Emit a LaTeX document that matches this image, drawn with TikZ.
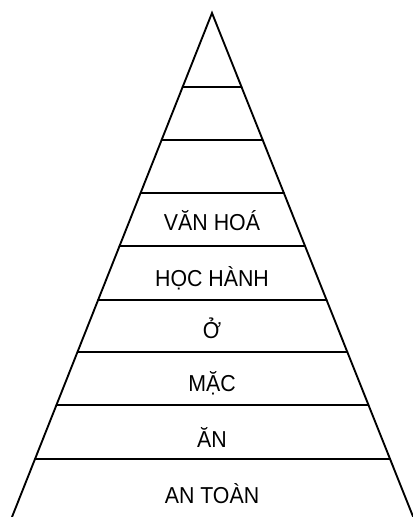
\documentclass[tikz,border=0pt]{standalone}
\usepackage{fontspec}
\setmainfont{Liberation Sans}
\usetikzlibrary{calc}

\begin{document}
\begin{tikzpicture}[x=0.75pt,y=-0.75pt]
\tikzset{tang/.style={black,line width=1.4pt,line cap=round},
         nhan/.style={anchor=base,yscale=1.08,font=\fontsize{16}{19}\selectfont}}
\useasboundingbox (0,0) rectangle (412,517);
% hai canh cua thap
\coordinate (dinh) at (212,13);
\coordinate (trai) at (12,517);
\coordinate (phai) at (414,519);
\draw[tang,line join=miter] (trai) -- (dinh) -- (phai);
% cac vach ngang
\foreach \y [count=\i] in {87,140,193,246,300,352,405,459}{
  \coordinate (l\i) at ($(dinh)!{(\y-13)/504}!(trai)$);
  \coordinate (r\i) at ($(dinh)!{(\y-13)/506}!(phai)$);
  \draw[tang] (l\i) -- (r\i);
}
% chu trong cac tang
\node[nhan] (vanhoa) at (212,230) {VĂN HOÁ};
\node[nhan] (hochanh) at (212,286) {HỌC HÀNH};
\node[nhan] (o) at (212,338) {Ở};
\node[nhan] (mac) at (212,391) {MẶC};
\node[nhan] (an) at (212,447) {ĂN};
\node[nhan] (antoan) at (212,503) {AN TOÀN};
\end{tikzpicture}
\end{document}
